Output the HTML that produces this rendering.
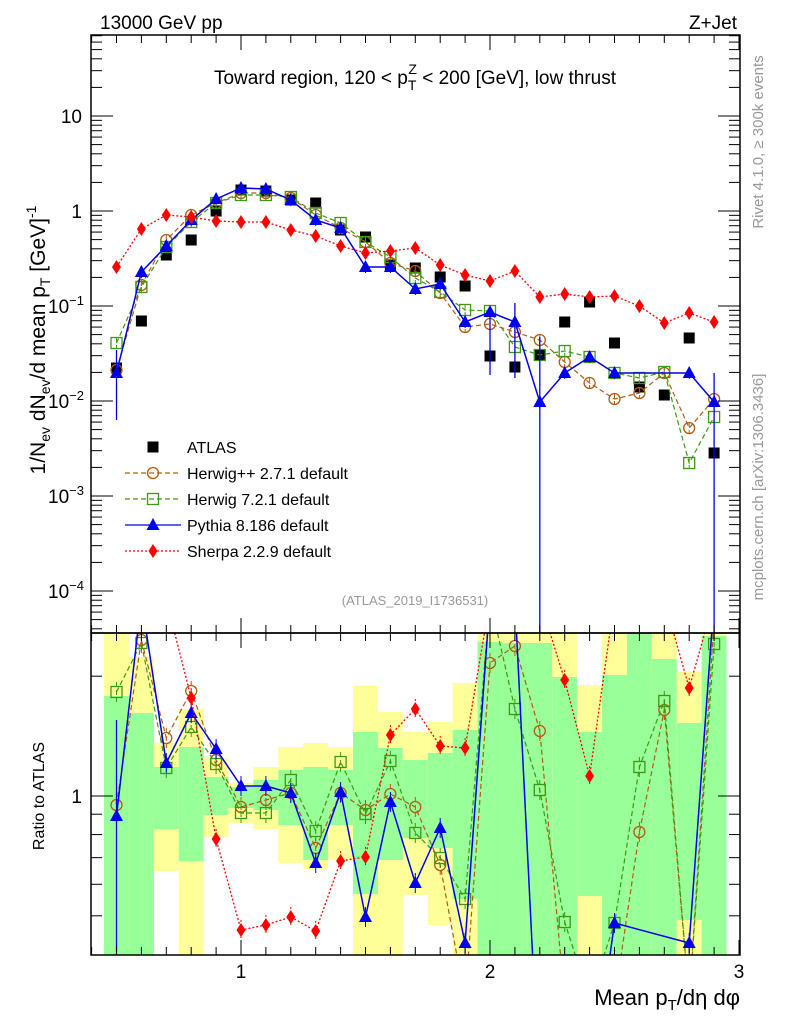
<!DOCTYPE html>
<html><head><meta charset="utf-8"><style>
html,body{margin:0;padding:0;background:#fff;overflow:hidden;width:786px;height:1024px;}
svg{display:block;font-family:"Liberation Sans",Arial,sans-serif;}
</style></head><body>
<svg id="s" width="786" height="1024" xmlns="http://www.w3.org/2000/svg">
<defs>
<clipPath id="cm"><rect x="91" y="35" width="649" height="598"/></clipPath>
<clipPath id="cr"><rect x="91" y="633" width="649" height="322"/></clipPath>
</defs>
<g id="bands" clip-path="url(#cr)"></g>
<g id="main" clip-path="url(#cm)"></g>
<g id="ratio" clip-path="url(#cr)"></g>
<g id="axes"></g>
<text x="100" y="29" font-size="19">13000 GeV pp</text>
<text x="737" y="29" font-size="19" text-anchor="end">Z+Jet</text>
<text x="415" y="84" font-size="19" text-anchor="middle">Toward region, 120 &lt; p<tspan font-size="14" dy="6">T</tspan><tspan font-size="14" dx="-8" dy="-16">Z</tspan><tspan dy="10"> &lt; 200 [GeV], low thrust</tspan></text>
<text x="415" y="605" font-size="13" fill="#999" text-anchor="middle">(ATLAS_2019_I1736531)</text>
<text transform="translate(763,142) rotate(-90)" font-size="15" fill="#999" text-anchor="middle">Rivet 4.1.0, ≥ 300k events</text>
<text transform="translate(763,487) rotate(-90)" font-size="15" fill="#999" text-anchor="middle">mcplots.cern.ch [arXiv:1306.3436]</text>
<text transform="translate(45,340) rotate(-90)" font-size="21" text-anchor="middle">1/N<tspan font-size="14" dy="5">ev</tspan><tspan dy="-5"> dN</tspan><tspan font-size="14" dy="5">ev</tspan><tspan dy="-5">/d mean p</tspan><tspan font-size="14" dy="5">T</tspan><tspan dy="-5"> [GeV]</tspan><tspan font-size="14" dy="-9">-1</tspan></text>
<text transform="translate(44,796) rotate(-90)" font-size="16" text-anchor="middle">Ratio to ATLAS</text>
<text x="740" y="1005" font-size="22" text-anchor="end">Mean p<tspan font-size="15" dy="5">T</tspan><tspan dy="-5">/dη dφ</tspan></text>
<g id="legend"></g>
</svg>
<script>
const NS="http://www.w3.org/2000/svg";
function el(p,t,a){const e=document.createElementNS(NS,t);for(const k in a)e.setAttribute(k,a[k]);p.appendChild(e);return e;}
const $=id=>document.getElementById(id);
const X=v=>241+(v-1)*249;
const xs=[];for(let i=0;i<25;i++)xs.push(X(0.5+i*0.1));
const C={br:"#b25c10",gr:"#3c9a10",bl:"#0000ee",rd:"#ff0000"};
function marker(g,type,x,y){
 if(type=="sq")el(g,"rect",{x:x-5.5,y:y-5.5,width:11,height:11,fill:"#000"});
 if(type=="ci")el(g,"circle",{cx:x,cy:y,r:5.5,fill:"none",stroke:C.br,"stroke-width":1.3});
 if(type=="os")el(g,"rect",{x:x-5.5,y:y-5.5,width:11,height:11,fill:"none",stroke:C.gr,"stroke-width":1.3});
 if(type=="tr")el(g,"polygon",{points:`${x},${y-7} ${x-6.5},${y+5} ${x+6.5},${y+5}`,fill:C.bl});
 if(type=="di")el(g,"polygon",{points:`${x},${y-7} ${x-4.5},${y} ${x},${y+7} ${x+4.5},${y}`,fill:C.rd});
}
const series=[
 {t:"ci",c:C.br,d:"5,3",w:1.2,
  m:[370,285,240,215,203,193,193,198,215,228,242,263,271,293,327,324,332,340,362,383,399,393,373,428,399],
  r:[805,640,738,691,760,807,800,793,848,793,810,794,807,865,1000,663,646,731,1000,1000,1000,832,710,1000,620]},
 {t:"os",c:C.gr,d:"5,3",w:1.2,
  m:[343,287,247,222,203,195,195,197,213,223,242,257,278,292,310,311,347,355,351,357,373,378,372,463,417],
  r:[692,643,768,727,764,813,813,780,831,762,814,761,833,858,899,600,709,790,922,1000,923,767,701,1000,644]},
 {t:"tr",c:C.bl,d:"",w:1.5,
  m:[373,272,246,220,199,188,189,200,220,228,267,267,289,284,322,312,322,402,373,357,373,null,null,373,402],
  r:[816,600,763,713,749,786,786,793,863,792,917,802,883,828,943,600,600,1100,1100,1100,923,null,null,943,600]},
 {t:"di",c:C.rd,d:"2,2",w:1.3,
  m:[267,229,215,217,221,222,222,230,236,246,253,251,248,265,275,281,271,297,294,297,296,306,323,313,322],
  r:[600,600,600,698,839,930,925,917,931,861,857,735,709,746,748,600,600,600,680,776,600,600,600,688,600]}
];
const atlas=[368,321,255,240,211,190,191,200,203,230,237,265,268,277,286,356,367,355,322,302,343,387,395,338,453];
const bands=[[633,955,696,955],[657,955,713,955],[743,871,767,829],[709,955,747,861],[758,837,777,815],[783,823,787,808],[767,829,780,810],[747,863,770,825],[743,869,767,860],[747,860,770,825],
[686,955,732,894],[712,955,748,860],[732,895,760,838],[722,925,753,848],[683,955,730,899],[633,955,642,955],[633,955,643,955],[633,955,643,955],[633,955,677,955],[685,955,732,896],[633,955,675,955],[633,955,633,955],[633,955,659,955],[672,955,723,920],[633,955,636,955]];
const bg=$("bands");
bands.forEach((b,i)=>{const x0=xs[i]-12.45;
 el(bg,"rect",{x:x0,y:b[0],width:24.9,height:b[1]-b[0],fill:"#ffff99"});
 el(bg,"rect",{x:x0,y:b[2],width:24.9,height:b[3]-b[2],fill:"#99ff99"});});
const gm=$("main"),gr=$("ratio");
atlas.forEach((y,i)=>marker(gm,"sq",xs[i],y));
series.forEach(s=>{
 for(const [g,arr] of [[gm,s.m],[gr,s.r]]){
  const pts=[];arr.forEach((y,i)=>{if(y!==null)pts.push(xs[i]+","+y);});
  el(g,"polyline",{points:pts.join(" "),fill:"none",stroke:s.c,"stroke-width":s.w,"stroke-dasharray":s.d});
  arr.forEach((y,i)=>{ if(y===null)return;
   const e=(g==gr?10:6);
   el(g,"line",{x1:xs[i],x2:xs[i],y1:y-e,y2:y+e,stroke:s.c,"stroke-width":1,"stroke-dasharray":s.d});
   marker(g,s.t,xs[i],y);});
 }
});
[[0,350,420],[17,337,640],[24,373,640],[15,308,375],[16,303,378]].forEach(([i,a,b])=>el(gm,"line",{x1:xs[i],x2:xs[i],y1:a,y2:b,stroke:C.bl,"stroke-width":1.3}));
el(gr,"line",{x1:xs[0],x2:xs[0],y1:720,y2:960,stroke:C.bl,"stroke-width":1.3});
const ga=$("axes");
const L=(x1,y1,x2,y2,w)=>el(ga,"line",{x1,y1,x2,y2,stroke:"#000","stroke-width":w||1});
el(ga,"rect",{x:91,y:35,width:649,height:598,fill:"none",stroke:"#000","stroke-width":1.5});
el(ga,"rect",{x:91,y:633,width:649,height:322,fill:"none",stroke:"#000","stroke-width":1.5});
for(let k=0;k<=26;k++){const v=0.4+k*0.1,x=X(v);const maj=Math.abs(v-Math.round(v))<1e-6;const l=maj?15:8;
 L(x,955,x,955-l);L(x,633,x,633+l);L(x,633,x,633-l);L(x,35,x,35+l);}
[["1",1],["2",2],["3",3]].forEach(([t,v])=>el(ga,"text",{x:X(v),y:978,"font-size":19,"text-anchor":"middle"}).textContent=t);
const Y=v=>211-95*Math.log10(v);
for(let d=-5;d<=1;d++){for(let m=1;m<10;m++){const v=m*Math.pow(10,d);const y=Y(v);if(y<35||y>633)continue;
 const l=m==1?22:11;L(91,y,91+l,y);L(740,y,740-l,y);}}
const labs=[[10,"10",""],[1,"1",""],[0.1,"10","−1"],[0.01,"10","−2"],[0.001,"10","−3"],[0.0001,"10","−4"]];
labs.forEach(([v,b,e])=>{const y=Y(v)+7;const t=el(ga,"text",{x:e?84:82,y:y,"font-size":19,"text-anchor":"end"});
 t.textContent=b; if(e){const ts=el(t,"tspan",{"font-size":13,dy:-8});ts.textContent=e;}});
const RY=v=>796-398*Math.log10(v);
[0.5,0.6,0.7,0.8,0.9,2].forEach(v=>{const y=RY(v);L(91,y,102,y);L(740,y,729,y);});
L(91,796,113,796);L(740,796,718,796);
el(ga,"text",{x:82,y:803,"font-size":19,"text-anchor":"end"}).textContent="1";
const gl=$("legend");
const items=[["sq","","ATLAS",null],["ci",C.br,"Herwig++ 2.7.1 default","5,3"],["os",C.gr,"Herwig 7.2.1 default","5,3"],["tr",C.bl,"Pythia 8.186 default",""],["di",C.rd,"Sherpa 2.2.9 default","2,2"]];
items.forEach((it,i)=>{const y=447+i*26;
 if(it[3]!==null)el(gl,"line",{x1:125,x2:181,y1:y,y2:y,stroke:it[1],"stroke-width":1.3,"stroke-dasharray":it[3]});
 marker(gl,it[0],153,y);
 el(gl,"text",{x:187,y:y+6,"font-size":16}).textContent=it[2];});
</script>
</body></html>
